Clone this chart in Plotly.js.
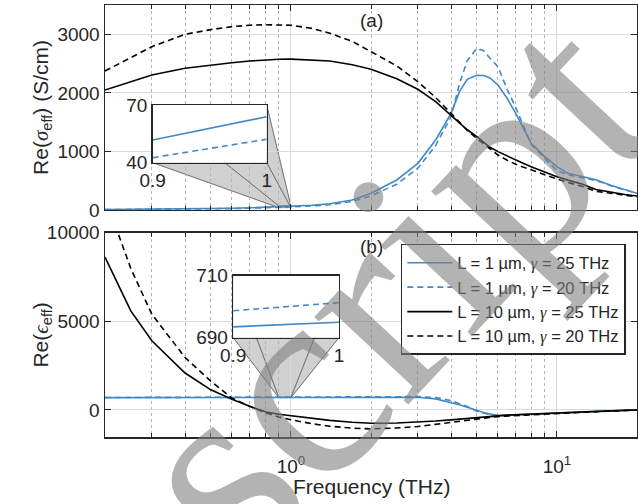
<!DOCTYPE html>
<html>
<head>
<meta charset="utf-8">
<script src="https://cdn.plot.ly/plotly-3.0.1.min.js"></script>
<style>html,body{margin:0;padding:0;background:#fff;}#chart{width:638px;height:504px;}</style>
</head>
<body>
<div id="chart"></div>
<script>
// ---------- data ----------
const freq = [0.2,0.25,0.3,0.4,0.5,0.6,0.7,0.8,0.9,1.0,1.2,1.4,1.7,2.0,2.5,3.0,3.5,4.0,4.3,4.6,5.0,5.3,5.6,6.0,6.5,7.0,7.5,8.0,9.0,10,11,12.5,14,16,18,20];

// Re(sigma_eff) (S/cm)
const sigmaL1g25  = [8,10,12,17,22,29,37,45,51.8,63.9,80,105,170,285,512,797,1195,1651,2020,2231,2300,2295,2255,2134,1907,1651,1395,1139,910,740,626,565,515,420,350,285];
const sigmaL1g20  = [6,8,10,14,18,24,30,37,42.6,52.2,68,90,145,239,440,712,1100,1593,2150,2550,2760,2720,2590,2447,2060,1750,1420,1120,880,670,600,545,505,415,345,282];
const sigmaL10g25 = [2049,2191,2305,2419,2475,2515,2545,2562,2573,2575,2560,2544,2480,2402,2240,2061,1849,1622,1490,1370,1252,1160,1070,996,920,855,795,740,650,569,510,440,350,300,265,239];
const sigmaL10g20 = [2373,2600,2788,3000,3080,3130,3155,3162,3160,3155,3100,3017,2880,2703,2460,2191,1920,1651,1500,1360,1220,1130,1040,939,850,780,730,683,600,530,470,400,320,280,250,225];

// Re(eps_eff)
const epsL1g25  = [692,692,692,692.5,693,693,693,693,693.5,695,698,700,703,705,708,710,620,428,290,150,-39,-150,-240,-300,-295,-270,-250,-230,-200,-169,-145,-110,-80,-50,-25,0];
const epsL1g20  = [698,698,698,698,698,698,698,698.2,698.7,701.3,705,710,718,725,740,760,690,524,370,190,-77,-200,-280,-335,-310,-280,-258,-236,-205,-175,-150,-115,-85,-55,-28,-3];
const epsL10g25 = [8625,5589,3900,2080,1133,600,200,-110,-250,-340,-480,-590,-700,-755,-740,-698,-630,-564,-520,-480,-430,-390,-355,-321,-295,-270,-250,-230,-200,-169,-145,-110,-80,-50,-25,0];
const epsL10g20 = [12000,7987,5397,2956,1620,660,200,-150,-400,-560,-780,-920,-1030,-1071,-1020,-941,-820,-698,-640,-580,-520,-470,-420,-378,-350,-320,-295,-270,-230,-192,-165,-120,-90,-60,-35,-20];

// zoom-in insets (0.9 - 1 THz)
const insetFreq = [0.9, 1.0];
const sigmaInsetL1g25 = [51.8, 63.9];
const sigmaInsetL1g20 = [42.6, 52.2];
const epsInsetL1g25 = [693.5, 695.0];
const epsInsetL1g20 = [698.7, 701.3];

const seriesNames = ['L = 1 µm, <span style="font-family:Liberation Serif"><i>γ</i></span> = 25 THz',
                     'L = 1 µm, <span style="font-family:Liberation Serif"><i>γ</i></span> = 20 THz',
                     'L = 10 µm, <span style="font-family:Liberation Serif"><i>γ</i></span> = 25 THz',
                     'L = 10 µm, <span style="font-family:Liberation Serif"><i>γ</i></span> = 20 THz'];
const majorTicks = [1, 10];
const majorTickText = ['10<sup>0</sup>', '10<sup>1</sup>'];
const minorTicks = [0.2,0.3,0.4,0.5,0.6,0.7,0.8,0.9,2,3,4,5,6,7,8,9,20];
const sigmaTicks = [0,1000,2000,3000];
const sigmaTickText = ['0','1000','2000','3000'];
const epsTicks = [0,5000,10000];
const epsTickText = ['0','5000','10000'];

// ---------- styling ----------
const BLUE = '#4389c6';
const BLACK = '#000000';
const FRAME = '#262626';
const FONT = 'Liberation Sans, Arial, sans-serif';
const DASH = '6px,4px';
const styles = [
  {color: BLUE, dash: 'solid'},
  {color: BLUE, dash: DASH},
  {color: BLACK, dash: 'solid'},
  {color: BLACK, dash: DASH}
];
const xRange = [0.2, 20];
const topDom = [0.5255, 1];
const botDom = [0, 0.4729];
const sigRange = [0, 3500];
const epsRange = [-1530, 10000];
const in1 = {x: [0.0897, 0.304], y: [0.635, 0.7685], yr: [40, 70]};
const in2 = {x: [0.241, 0.4398], y: [0.2299, 0.3734], yr: [690, 710]};

const sigSeries = [sigmaL1g25, sigmaL1g20, sigmaL10g25, sigmaL10g20];
const epsSeries = [epsL1g25, epsL1g20, epsL10g25, epsL10g20];
const traces = [];
sigSeries.forEach((s, i) => traces.push({x: freq, y: s, xaxis: 'x', yaxis: 'y', mode: 'lines', name: seriesNames[i], showlegend: false, legendgroup: 'g' + i, line: {color: styles[i].color, dash: styles[i].dash, width: 1.6}}));
epsSeries.forEach((s, i) => traces.push({x: freq, y: s, xaxis: 'x2', yaxis: 'y2', mode: 'lines', name: seriesNames[i], showlegend: true, legendgroup: 'g' + i, line: {color: styles[i].color, dash: styles[i].dash, width: 1.6}}));
traces.push({x: insetFreq, y: sigmaInsetL1g25, xaxis: 'x3', yaxis: 'y3', mode: 'lines', showlegend: false, line: {color: BLUE, width: 1.6}});
traces.push({x: insetFreq, y: sigmaInsetL1g20, xaxis: 'x3', yaxis: 'y3', mode: 'lines', showlegend: false, line: {color: BLUE, width: 1.6, dash: DASH}});
traces.push({x: insetFreq, y: epsInsetL1g25, xaxis: 'x4', yaxis: 'y4', mode: 'lines', showlegend: false, line: {color: BLUE, width: 1.6}});
traces.push({x: insetFreq, y: epsInsetL1g20, xaxis: 'x4', yaxis: 'y4', mode: 'lines', showlegend: false, line: {color: BLUE, width: 1.6, dash: DASH}});

// ---------- helpers for the zoom connectors ----------
const lx0 = Math.log10(xRange[0]), lx1 = Math.log10(xRange[1]);
function xp(f) { return (Math.log10(f) - lx0) / (lx1 - lx0); }
function yp(v, dom, r) { return dom[0] + (v - r[0]) / (r[1] - r[0]) * (dom[1] - dom[0]); }
function frustum(box, src) {
  const [bx0, bx1] = box.x, [by0, by1] = box.y;
  const [sx0, sx1, sy0, sy1] = src;
  const faces = [
    [[bx0, by1], [bx0, by0], [sx0, sy0], [sx0, sy1]],
    [[bx1, by1], [bx1, by0], [sx1, sy0], [sx1, sy1]],
    [[bx0, by0], [bx1, by0], [sx1, sy0], [sx0, sy0]],
    [[bx0, by1], [bx1, by1], [sx1, sy1], [sx0, sy1]]
  ];
  return faces.map(pts => ({
    type: 'path', xref: 'paper', yref: 'paper', layer: 'below',
    path: 'M' + pts.map(p => p[0] + ',' + p[1]).join('L') + 'Z',
    fillcolor: 'rgba(60,60,60,0.13)', line: {color: 'rgba(70,70,70,0.55)', width: 0.8}
  })).concat([{
    type: 'rect', xref: 'paper', yref: 'paper', layer: 'below',
    x0: sx0, x1: sx1, y0: sy0, y1: sy1, line: {color: 'rgba(70,70,70,0.7)', width: 0.8, dash: 'dot'}
  }]);
}
const shapes = []
  .concat(frustum(in1, [xp(insetFreq[0]), xp(insetFreq[1]), yp(in1.yr[0], topDom, sigRange), yp(in1.yr[1], topDom, sigRange)]))
  .concat(frustum(in2, [xp(insetFreq[0]), xp(insetFreq[1]), yp(in2.yr[0], botDom, epsRange), yp(in2.yr[1], botDom, epsRange)]));

const tickFont = {family: FONT, size: 19, color: '#262626'};
function mainX(dom, anchor, labels) {
  return {
    type: 'log', domain: [0, 1], anchor: anchor, range: [lx0, lx1],
    tickvals: majorTicks, ticktext: majorTickText, showticklabels: labels,
    ticks: 'inside', ticklen: 6, tickcolor: FRAME, mirror: 'ticks',
    showline: true, linecolor: FRAME, linewidth: 1.5,
    showgrid: true, gridcolor: '#dadada', gridwidth: 1, zeroline: false,
    tickfont: tickFont, ticklabelstandoff: 12,
    minor: {tickvals: minorTicks, ticks: 'inside', ticklen: 4, tickcolor: FRAME, showgrid: true, gridcolor: '#b4b4b4', griddash: 'dot', gridwidth: 1}
  };
}
function mainY(dom, anchor, range, tv, tt, title) {
  return {
    domain: dom, anchor: anchor, range: range, tickvals: tv, ticktext: tt,
    ticks: 'inside', ticklen: 6, tickcolor: FRAME, mirror: 'ticks',
    showline: true, linecolor: FRAME, linewidth: 1.5,
    showgrid: true, gridcolor: '#dadada', gridwidth: 1, zeroline: false,
    tickfont: tickFont,
    title: {text: title, font: {family: FONT, size: 21, color: '#262626'}}
  };
}
function insetAxes(box, anchorX, anchorY, xr, yr, xlabels, ylabels) {
  return [{
    domain: box.x, anchor: anchorY, range: xr, tickvals: xr, ticktext: xlabels,
    showline: true, mirror: true, linecolor: FRAME, linewidth: 1.5, showgrid: false, zeroline: false,
    ticks: '', tickfont: tickFont
  }, {
    domain: box.y, anchor: anchorX, range: yr, tickvals: yr, ticktext: ylabels,
    showline: true, mirror: true, linecolor: FRAME, linewidth: 1.5, showgrid: false, zeroline: false,
    ticks: '', tickfont: tickFont
  }];
}
const [x3, y3] = insetAxes(in1, 'x3', 'y3', insetFreq, in1.yr, ['0.9', '1'], ['40', '70']);
const [x4, y4] = insetAxes(in2, 'x4', 'y4', insetFreq, in2.yr, ['0.9', '1'], ['690', '710']);

const layout = {
  width: 638, height: 504,
  margin: {l: 105, r: 1, t: 5, b: 67},
  paper_bgcolor: '#ffffff', plot_bgcolor: '#ffffff',
  font: {family: FONT, color: '#262626'},
  xaxis: mainX(topDom, 'y', false),
  yaxis: mainY(topDom, 'x', sigRange, sigmaTicks, sigmaTickText, 'Re(<span style="font-family:Liberation Serif"><i>σ</i></span><sub>eff</sub>) (S/cm)'),
  xaxis2: mainX(botDom, 'y2', true),
  yaxis2: mainY(botDom, 'x2', epsRange, epsTicks, epsTickText, 'Re(<span style="font-family:Liberation Serif"><i>ϵ</i></span><sub>eff</sub>)'),
  xaxis3: x3, yaxis3: y3, xaxis4: x4, yaxis4: y4,
  showlegend: true,
  legend: {x: 0.556, y: 0.4468, xanchor: 'left', yanchor: 'top', bgcolor: '#ffffff', bordercolor: FRAME, borderwidth: 1.5,
           font: {family: FONT, size: 16.5, color: '#262626'}, itemwidth: 45, tracegroupgap: 0},
  shapes: shapes,
  annotations: [
    {text: '(a)', xref: 'paper', yref: 'paper', x: xp(2), y: 0.965, xanchor: 'center', yanchor: 'middle', showarrow: false, font: {family: FONT, size: 19, color: '#262626'}},
    {text: '(b)', xref: 'paper', yref: 'paper', x: xp(2), y: 0.4405, xanchor: 'center', yanchor: 'middle', showarrow: false, font: {family: FONT, size: 19, color: '#262626'}},
    {text: 'Frequency (THz)', xref: 'paper', yref: 'paper', x: 0.501, y: -0.1157, xanchor: 'center', yanchor: 'middle', showarrow: false, font: {family: FONT, size: 21, color: '#262626'}},
    {text: 'script', xref: 'paper', yref: 'paper', x: 0.532, y: 0.347, xanchor: 'center', yanchor: 'middle', showarrow: false, textangle: -47,
     font: {family: 'Liberation Serif, serif', size: 280, color: 'rgba(128,128,128,0.6)'}}
  ]
};
Plotly.newPlot('chart', traces, layout, {displayModeBar: false, staticPlot: true});
</script>
</body>
</html>
